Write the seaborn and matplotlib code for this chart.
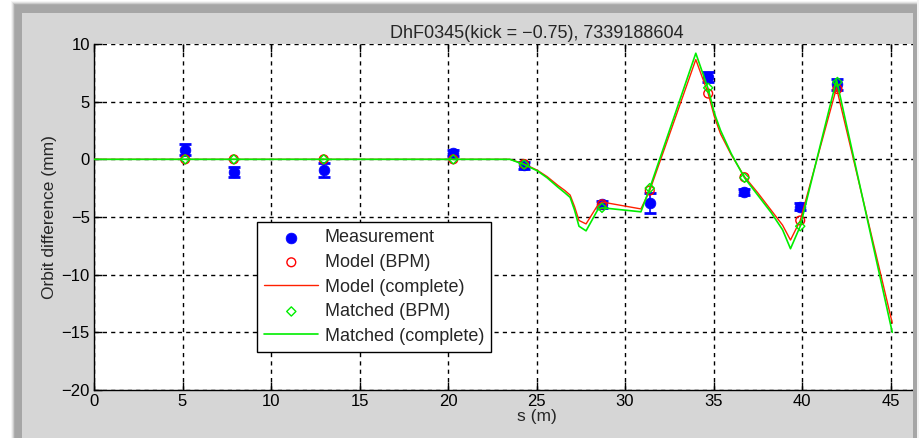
import matplotlib
matplotlib.use("Agg")
import matplotlib.pyplot as plt
import matplotlib.patches as mpatches
import seaborn as sns
import pandas as pd

# ---- data ----
bpm_s = [5.15, 7.9, 12.98, 20.3, 24.3, 28.7, 31.4, 34.7, 36.75, 39.9, 42.0]
meas_y = [0.85, -1.1, -0.9, 0.55, -0.5, -3.9, -3.8, 7.15, -2.8, -4.1, 6.5]
meas_err = [0.45, 0.45, 0.6, 0.3, 0.3, 0.3, 0.85, 0.45, 0.25, 0.3, 0.5]
model_bpm = [0.0, 0.0, 0.0, 0.0, -0.4, -3.9, -2.7, 5.7, -1.55, -5.3, 6.1]
matched_bpm = [0.0, 0.0, 0.0, 0.0, -0.45, -4.2, -2.5, 6.2, -1.6, -5.8, 6.7]

model_s = [0, 23.5, 24.3, 25.05, 25.6, 26.2, 26.6, 26.9, 27.15, 27.4, 27.8,
           28.45, 28.7, 30.9, 31.4, 34.0, 34.7, 35.05, 35.4, 36.0, 36.75,
           37.5, 38.25, 38.9, 39.35, 39.9, 41.95, 45.1]
model_y = [0, 0, -0.4, -0.95, -1.5, -2.25, -2.7, -3.1, -4.1, -5.3, -5.6,
           -4.0, -3.7, -4.3, -2.7, 8.65, 5.7, 3.7, 2.2, 0.4, -1.5,
           -2.9, -4.4, -5.7, -7.0, -5.3, 6.2, -14.2]
matched_y = [0, 0, -0.45, -1.0, -1.6, -2.4, -2.9, -3.3, -4.4, -5.8, -6.2,
             -4.4, -4.2, -4.55, -2.5, 9.2, 6.1, 4.0, 2.5, 0.5, -1.6,
             -3.1, -4.6, -6.1, -7.75, -5.8, 6.9, -15.0]

title = "DhF0345(kick = \u22120.75), 7339188604"
labels = ["Measurement", "Model (BPM)", "Model (complete)",
          "Matched (BPM)", "Matched (complete)"]
xticks = [0, 5, 10, 15, 20, 25, 30, 35, 40, 45]
yticks = [-20, -15, -10, -5, 0, 5, 10]

sns.set_theme(style="white")
plt.rcParams['font.family'] = ['Liberation Sans', 'DejaVu Sans']
plt.rcParams['axes.unicode_minus'] = True

W, H = 919, 438
fig = plt.figure(figsize=(W / 100, H / 100), dpi=100, facecolor="white")

# window frame with soft shadow (behind the axes)
for i, a in enumerate([0.04, 0.07, 0.10, 0.14]):
    d = 4 - i
    fig.patches.append(mpatches.Rectangle(((15 - d) / W, 0), (902 + 2 * d) / W, (433 + d) / H,
                                          transform=fig.transFigure, facecolor="black",
                                          alpha=a, edgecolor="none", zorder=-10))
fig.patches.append(mpatches.Rectangle((15 / W, 0), 902 / W, 433 / H, transform=fig.transFigure,
                                      facecolor="#a6a6a6", edgecolor="none", zorder=-9))
fig.patches.append(mpatches.Rectangle((22 / W, 0), 891 / W, 425 / H, transform=fig.transFigure,
                                      facecolor="#d6d6d6", edgecolor="none", zorder=-8))

# axes is wider than the visible window (cropped at the right)
AX_L, AX_R = 94, 979
ax = fig.add_axes([AX_L / W, 1 - 390 / H, (AX_R - AX_L) / W, (390 - 44) / H])
ax.set_facecolor("white")

df_line = pd.DataFrame({"s": model_s, "model": model_y, "matched": matched_y})
df_bpm = pd.DataFrame({"s": bpm_s, "meas": meas_y, "err": meas_err,
                       "model": model_bpm, "matched": matched_bpm})

ax.errorbar(df_bpm["s"], df_bpm["meas"], yerr=df_bpm["err"], fmt="none",
            ecolor="#0000ff", elinewidth=1.2, capsize=4.5, capthick=2, zorder=3)
sns.scatterplot(data=df_bpm, x="s", y="meas", ax=ax, color="#0000ff", marker="o",
                s=60, edgecolor="#0000ff", linewidth=0.5, zorder=4, label=labels[0])
sns.scatterplot(data=df_bpm, x="s", y="model", ax=ax, marker="o", s=40,
                facecolor="none", edgecolor="#ff0000", linewidth=1.0, zorder=5, label=labels[1])
sns.lineplot(data=df_line, x="s", y="model", ax=ax, sort=False, color="#ff2000",
             linewidth=1.0, zorder=6, label=labels[2])
sns.scatterplot(data=df_bpm, x="s", y="matched", ax=ax, marker="D", s=22,
                facecolor="none", edgecolor="#00ee00", linewidth=1.0, zorder=7, label=labels[3])
sns.lineplot(data=df_line, x="s", y="matched", ax=ax, sort=False, color="#00ee00",
             linewidth=1.2, zorder=8, label=labels[4])

ax.set_xlim(0, 50)
ax.set_ylim(-20, 10)
ax.set_xticks(xticks)
ax.set_yticks(yticks)
ax.grid(True, color="black", linestyle=(0, (3, 3)), linewidth=1.0)
ax.set_axisbelow(True)
ax.tick_params(axis="both", direction="in", length=6, width=1, colors="black",
               labelsize=12, top=True, bottom=True, left=True, pad=3)
for side in ["top", "right"]:
    ax.spines[side].set_visible(False)
for side in ["left", "bottom"]:
    ax.spines[side].set_color("black")
    ax.spines[side].set_linewidth(1.0)

ax.set_xlabel("s (m)", fontsize=12.5, labelpad=0)
ax.set_ylabel("Orbit difference (mm)", fontsize=12.5, labelpad=3)
ax.set_title(title, fontsize=13, pad=4)

leg = ax.legend(loc="lower left", bbox_to_anchor=((257 - AX_L) / (AX_R - AX_L), 38 / 346),
                fontsize=13, frameon=True, fancybox=False, edgecolor="black", framealpha=1,
                handlelength=3.0, labelspacing=0.42, borderpad=0.4,
                handletextpad=0.35, borderaxespad=0)
leg.get_frame().set_linewidth(1.0)

# right window border drawn over the cropped axes
fig.patches.append(mpatches.Rectangle((912.5 / W, 0), 4.5 / W, 433 / H, transform=fig.transFigure,
                                      facecolor="#a6a6a6", edgecolor="none", zorder=20))
fig.patches.append(mpatches.Rectangle((917 / W, 0), 2 / W, 1, transform=fig.transFigure,
                                      facecolor="#f2f2f2", edgecolor="none", zorder=20))

fig.savefig("out.png", dpi=100, facecolor=fig.get_facecolor())
